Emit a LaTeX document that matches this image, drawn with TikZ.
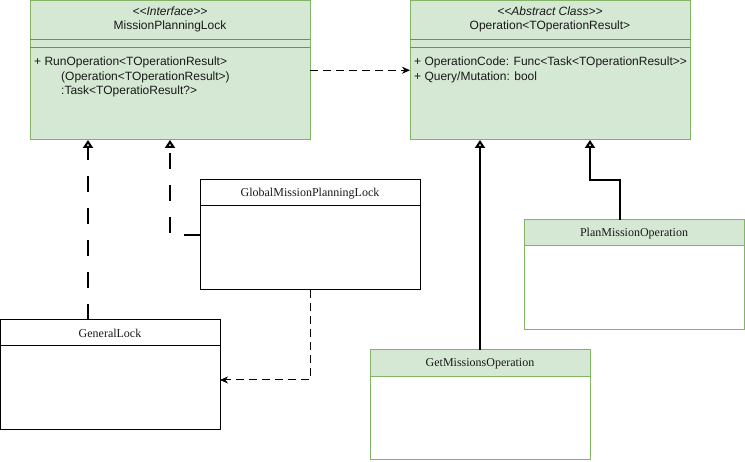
\documentclass[tikz,border=0pt]{standalone}
\usepackage{fontspec}
\setmainfont{Liberation Serif}
\newfontfamily\sansf{Liberation Sans}
\usetikzlibrary{arrows.meta}
\definecolor{gfill}{HTML}{D5E8D4}
\definecolor{gline}{HTML}{82B366}
\definecolor{cline}{HTML}{808080}
\newcommand\dlt{<\kern0pt<}
\newcommand\dgt{>\kern0pt>}
\begin{document}
\begin{tikzpicture}[x=1pt,y=-1pt,
  gbox/.style={draw=gline, fill=gfill, line width=1pt, rectangle, inner sep=0pt, outer sep=0pt, anchor=north west},
  bbox/.style={draw=black, fill=white, line width=1pt, rectangle, inner sep=0pt, outer sep=0pt, anchor=north west},
  gpart/.style={draw=gline, fill=white, line width=1pt, rectangle, inner sep=0pt, outer sep=0pt, anchor=north west},
  cl/.style={draw=cline, line width=1pt},
  stxt/.style={font=\sansf\fontsize{12pt}{14.5pt}\selectfont, inner sep=0pt, text=black!90},
  rtxt/.style={font=\fontsize{12pt}{14pt}\selectfont, inner sep=0pt, text=black!90},
  dep/.style={draw=black, line width=1pt, dash pattern=on 8pt off 5pt, -{Stealth[length=8pt,width=7pt,inset=2.5pt]}},
  real/.style={draw=black, line width=2pt, dash pattern=on 16pt off 16pt, -{Triangle[open,length=8pt,width=10pt,fill=white]}},
  gen/.style={draw=black, line width=2pt, -{Triangle[open,length=8pt,width=10pt,fill=white]}}
]
\useasboundingbox (0,0) rectangle (745,462);

% MissionPlanningLock
\node[gbox, minimum width=280pt, minimum height=139.5pt] (mpl) at (30,0.5) {};
\draw[cl] ([yshift=-39.5pt]mpl.north west) -- ([yshift=-39.5pt]mpl.north east);
\draw[cl] ([yshift=-47.5pt]mpl.north west) -- ([yshift=-47.5pt]mpl.north east);
\node[stxt] (mplst) at (170,11) {\itshape \dlt Interface\dgt};
\node[stxt] (mplname) at (170,26) {MissionPlanningLock};
\node[stxt, anchor=base west] (mplm1) at (34,66) {+ RunOperation<TOperationResult>};
\node[stxt, anchor=base west] (mplm2) at (61,80.5) {(Operation<TOperationResult>)};
\node[stxt, anchor=base west] (mplm3) at (61,95) {:Task<TOperatioResult?>};

% Operation
\node[gbox, minimum width=280pt, minimum height=139.5pt] (op) at (410,0.5) {};
\draw[cl] ([yshift=-39.5pt]op.north west) -- ([yshift=-39.5pt]op.north east);
\draw[cl] ([yshift=-47.5pt]op.north west) -- ([yshift=-47.5pt]op.north east);
\node[stxt] (opst) at (550,11) {\itshape \dlt Abstract Class\dgt};
\node[stxt] (opname) at (550,26) {Operation<TOperationResult>};
\node[stxt, anchor=base west] (opa1) at (414,66) {+ OperationCode: Func<Task<TOperationResult\dgt};
\node[stxt, anchor=base west] (opa2) at (414,80.5) {+ Query/Mutation: bool};

% GlobalMissionPlanningLock
\node[bbox, minimum width=220pt, minimum height=110pt] (gmpl) at (200,180) {};
\draw[line width=1pt] ([yshift=-26pt]gmpl.north west) -- ([yshift=-26pt]gmpl.north east);
\node[rtxt] (gmplname) at (310,193.5) {GlobalMissionPlanningLock};

% GeneralLock
\node[bbox, minimum width=219.5pt, minimum height=110pt] (gl) at (0.5,320) {};
\draw[line width=1pt] ([yshift=-26pt]gl.north west) -- ([yshift=-26pt]gl.north east);
\node[rtxt] (glname) at (110,333.5) {GeneralLock};

% PlanMissionOperation
\node[gpart, minimum width=220pt, minimum height=110pt] (pmo) at (524,220) {};
\node[gbox, minimum width=220pt, minimum height=26pt] (pmoh) at (524,220) {};
\node[rtxt] (pmoname) at (634,233.5) {PlanMissionOperation};

% GetMissionsOperation
\node[gpart, minimum width=220pt, minimum height=110pt] (gmo) at (370,350) {};
\node[gbox, minimum width=220pt, minimum height=27pt] (gmoh) at (370,350) {};
\node[rtxt] (gmoname) at (480,364) {GetMissionsOperation};

% connectors
\draw[dep] (mpl.east) -- (op.west);
\draw[real] ([xshift=87.5pt]gl.north west) -- ([xshift=87.5pt]gl.north west |- mpl.south);
\draw[real] (gmpl.west) -| (mpl.south);
\draw[dep] (gmpl.south) |- ([yshift=-5pt]gl.east);
\draw[gen] (gmoh.north) -- (gmoh.north |- op.south);
\coordinate (pmoc) at ([xshift=-14pt]pmoh.north);
\coordinate (opc) at ([xshift=40pt]op.south);
\draw[gen] (pmoc) -- ++(0,-40) -| (opc);
\end{tikzpicture}
\end{document}
